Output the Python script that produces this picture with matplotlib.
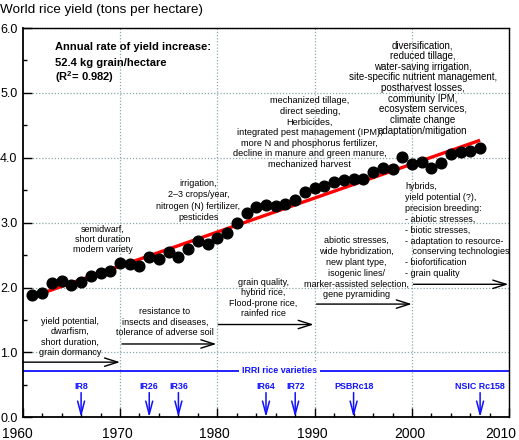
import matplotlib
matplotlib.use("Agg")
import matplotlib.pyplot as plt
from matplotlib.ticker import MultipleLocator
from matplotlib.transforms import ScaledTranslation

plt.rcParams['font.family'] = ['Liberation Sans', 'DejaVu Sans']
plt.rcParams['mathtext.fontset'] = 'custom'
plt.rcParams['mathtext.rm'] = 'Liberation Sans'
plt.rcParams['mathtext.bf'] = 'Liberation Sans:bold'

# ---------------- data ----------------
years = list(range(1961, 2008))
yields = [1.88, 1.91, 2.07, 2.10, 2.04, 2.09, 2.18, 2.23, 2.26, 2.38,
          2.37, 2.33, 2.47, 2.44, 2.54, 2.47, 2.59, 2.71, 2.67, 2.76,
          2.84, 3.00, 3.15, 3.24, 3.27, 3.26, 3.29, 3.35, 3.48, 3.54,
          3.56, 3.62, 3.65, 3.67, 3.67, 3.78, 3.84, 3.82, 4.01, 3.90,
          3.94, 3.84, 3.92, 4.06, 4.09, 4.11, 4.15]
trend_years = [1961, 2007]
trend_yield = [1.86, 4.27]

variety_names = ['IR8', 'IR26', 'IR36', 'IR64', 'IR72', 'PSBRc18', 'NSIC Rc158']
variety_years = [1966, 1973, 1976, 1985, 1988, 1994, 2007]

era_start = [1960, 1970.2, 1980.1, 1990.2, 2000.15]
era_end = [1970, 1979.9, 1989.9, 1999.98, 2009.9]
era_level = [0.85, 1.13, 1.43, 1.745, 2.05]

xticks = [1960, 1970, 1980, 1990, 2000, 2010]
yticks = [0.0, 1.0, 2.0, 3.0, 4.0, 5.0, 6.0]

# ---------------- figure ----------------
fig = plt.figure(figsize=(5.19, 4.40), dpi=100)
ax = fig.add_axes([22.7/519, 1-417.3/440, (509.3-22.7)/519, (417.3-28)/440])
ax.set_xlim(1960, 2010)
ax.set_ylim(0, 6)

ax.set_xticks(xticks)
ax.set_xticklabels([str(t) for t in xticks])
ax.set_yticks(yticks)
ax.set_yticklabels(['%.1f' % t for t in yticks])
ax.xaxis.set_minor_locator(MultipleLocator(2))
ax.yaxis.set_minor_locator(MultipleLocator(0.5))
ax.tick_params(which='major', direction='in', length=6.5, width=1)
ax.tick_params(axis='x', which='major', pad=6.8, labelsize=10)
ax.tick_params(axis='y', which='major', pad=3.7, labelsize=9)
ax.tick_params(which='minor', direction='in', length=3.2, width=1)
ax.tick_params(top=False, right=False, which='both')

# small horizontal nudges of the x tick labels so the edge ones stay inside
xlabels = ax.get_xticklabels()
shifts_px = [-5, -2.5, -2.5, -2.5, -2.5, -8.5]
for lab, dx in zip(xlabels, shifts_px):
    lab.set_transform(lab.get_transform() + ScaledTranslation(dx / 100, 0, fig.dpi_scale_trans))

gcol = (0.55, 0.66, 0.66)
for xv in [1970, 1980, 1990, 2000]:
    ax.axvline(xv, color=gcol, lw=0.9, ls=(0, (1, 1.5)), zorder=0)
for yv in [1, 2, 3, 4, 5]:
    ax.axhline(yv, color=gcol, lw=0.9, ls=(0, (1, 1.5)), zorder=0)

for s in ['left', 'bottom']:
    ax.spines[s].set_linewidth(1.3)
for s in ['top', 'right']:
    ax.spines[s].set_linestyle((0, (1, 0.8)))
    ax.spines[s].set_linewidth(1.0)

# trend and data
ax.plot(trend_years, trend_yield, color='#ff0000', lw=2.4, zorder=3, solid_capstyle='butt')
ax.plot(years, yields, 'o', color='black', ms=7.7, zorder=4)

# IRRI varieties line
ax.axhline(0.72, color='#1010ff', lw=1.3, zorder=2)
ax.text(1986.4, 0.72, 'IRRI rice varieties', color='#1010ff', fontsize=6.4,
        fontweight='bold', ha='center', va='center', zorder=3,
        bbox=dict(boxstyle='square,pad=0.35', fc='white', ec='none'))

for name, yr in zip(variety_names, variety_years):
    ax.annotate('', xy=(yr, 0.0), xytext=(yr, 0.38),
                arrowprops=dict(arrowstyle='->,head_length=0.95,head_width=0.25',
                                color='#1010ff', lw=1.1, shrinkA=0, shrinkB=0,
                                mutation_scale=10))
    ax.text(yr, 0.437, name, color='#1010ff', fontsize=6.4, fontweight='bold',
            ha='center', va='baseline')

# era arrows
for x0, x1, yv in zip(era_start, era_end, era_level):
    ax.annotate('', xy=(x1, yv), xytext=(x0, yv),
                arrowprops=dict(arrowstyle='->,head_length=0.95,head_width=0.3',
                                color='black', lw=1.0, shrinkA=0, shrinkB=0,
                                mutation_scale=10))


def put_lines(x, y0, lines, step_pt, ha='center', **kw):
    for i, line in enumerate(lines):
        ax.annotate(line, xy=(x, y0), xytext=(0, -i * step_pt),
                    textcoords='offset points', ha=ha, va='baseline', **kw)


FS = 6.5

put_lines(1963.3, 5.664, ['Annual rate of yield increase:',
                          '52.4 kg grain/hectare',
                          r'(R$^{\mathbf{2}}$= 0.982)'],
          11.4, ha='left', fontsize=8, fontweight='bold')

put_lines(1964.9, 1.442, ['yield potential,', 'dwarfism,', 'short duration,',
                          'grain dormancy'], 7.55, fontsize=FS)
put_lines(1974.6, 1.592, ['resistance to', 'insects and diseases,',
                          'tolerance of adverse soil'], 7.7, fontsize=FS)
put_lines(1984.75, 2.043, ['grain quality,', 'hybrid rice,', 'Flood-prone rice,',
                           'rainfed rice'], 7.6, fontsize=FS)
put_lines(1994.3, 2.686, ['abiotic stresses,', 'wide hybridization,',
                          'new plant type,', 'isogenic lines/',
                          'marker-assisted selection,', 'gene pyramiding'],
          7.8, fontsize=FS)
put_lines(1999.3, 3.518, ['hybrids,', 'yield potential (?),', 'precision breeding:',
                          '- abiotic stresses,', '- biotic stresses,',
                          '- adaptation to resource-', '   conserving technologies',
                          '- biofortification', '- grain quality'],
          7.85, ha='left', fontsize=FS)
put_lines(1968.2, 2.866, ['semidwarf,', 'short duration', 'modern variety'],
          7.45, fontsize=FS)
put_lines(1978.05, 3.559, ['irrigation,', '2\u20133 crops/year,',
                           'nitrogen (N) fertilizer,', 'pesticides'],
          8.0, fontsize=FS)
put_lines(1989.5, 4.843, ['mechanized tillage,', 'direct seeding,', 'Herbicides,',
                          'integrated pest management (IPM),',
                          'more N and phosphorus fertilizer,',
                          'decline in manure and green manure,',
                          'mechanized harvest'], 7.65, fontsize=6.7)
put_lines(2001.1, 5.69, ['diversification,', 'reduced tillage,',
                         'water-saving irrigation,',
                         'site-specific nutrient management,',
                         'postharvest losses,', 'community IPM,',
                         'ecosystem services,', 'climate change',
                         'adaptation/mitigation'], 7.7, fontsize=7.0)

fig.text(0.0, 1 - 10/440, 'World rice yield (tons per hectare)', fontsize=9.7,
         ha='left', va='center')

fig.savefig('out.png', dpi=100)
